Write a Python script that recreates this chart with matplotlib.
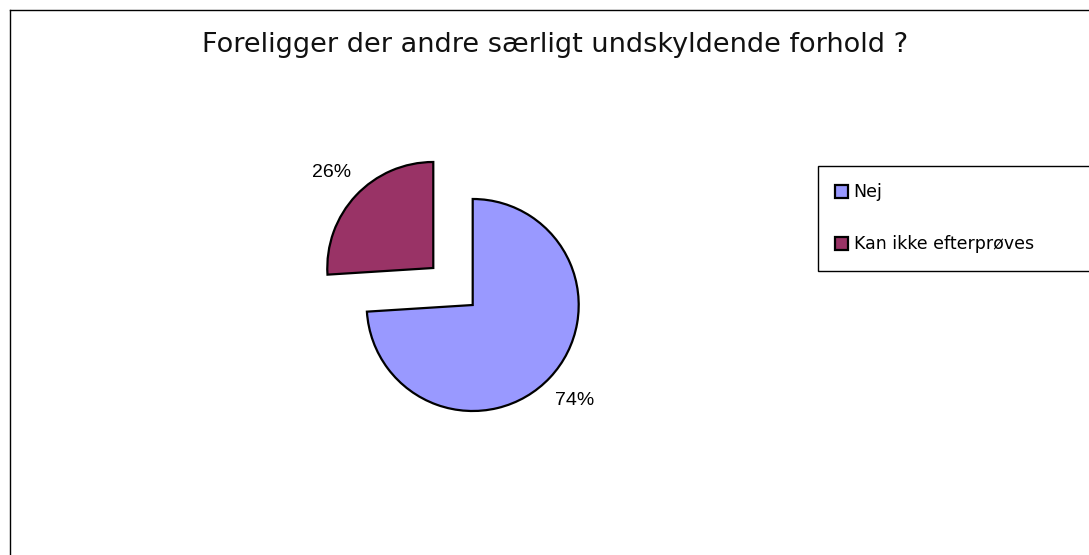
import matplotlib.pyplot as plt
from matplotlib.lines import Line2D

labels = ['Nej', 'Kan ikke efterprøves']
shares = [74, 26]
colors = ['#9999FF', '#993366']
explode = [0, 0.51]

W, H = 1089, 555
fig = plt.figure(figsize=(W / 100, H / 100), dpi=100)

# axes spans whole figure, 1 data unit = 106 px, pie centre at (472.7, 305) px
r_px = 106.0
cx, cy = 472.7, 305.0
ax = fig.add_axes([0, 0, 1, 1])

wedges, texts, autotexts = ax.pie(
    shares, colors=colors, explode=explode, startangle=90, counterclock=False,
    autopct='%1.0f%%', pctdistance=1.32, labeldistance=None,
    wedgeprops=dict(edgecolor='black', linewidth=1.6),
    textprops=dict(fontsize=14, family='Liberation Sans', color='black'))
ax.set_aspect('auto')
ax.set_xlim(-cx / r_px, (W - cx) / r_px)
ax.set_ylim(-(H - cy) / r_px, cy / r_px)
ax.axis('off')

fig.text(555 / W, 1 - 45 / H, 'Foreligger der andre særligt undskyldende forhold ?',
         ha='center', va='center', fontsize=19.5, family='DejaVu Sans', color='#111111')

leg = fig.legend(wedges, labels, loc='upper left', mode='expand',
                 bbox_to_anchor=(818 / W, 1 - 166 / H - 0.01, 290 / W, 0.01),
                 borderaxespad=0,
                 fancybox=False, frameon=True, edgecolor='black', facecolor='white',
                 framealpha=1, prop=dict(family='DejaVu Sans', size=12.5),
                 handlelength=0.75, handleheight=0.75, handletextpad=0.3,
                 labelspacing=1.95, borderpad=1.0)
leg.get_frame().set_linewidth(1.0)

# outer chart border (left and top only are inside the picture)
fig.add_artist(Line2D([10 / W, 10 / W], [0, 1 - 10 / H], color='black', lw=1.0))
fig.add_artist(Line2D([10 / W, 1], [1 - 10 / H, 1 - 10 / H], color='black', lw=1.0))

fig.savefig('out.png', dpi=100)
